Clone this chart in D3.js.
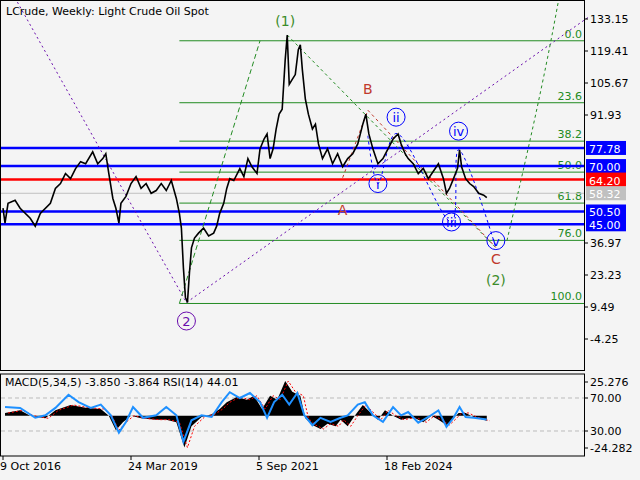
<!DOCTYPE html>
<html><head><meta charset="utf-8">
<script src="https://cdn.jsdelivr.net/npm/d3@7"></script>
<style>body{margin:0;background:#f4f4f4}svg{display:block;font-family:"DejaVu Sans",sans-serif}</style>
</head><body><svg id="c" width="640" height="480"></svg>
<script>
// weeks since 9 Oct 2016
const priceWeeks=[0,2,5,12,17,27,32,37,47,52,57,62,67,72,77,82,89,94,99,102,105,109,112,115,117,122,127,132,137,142,147,152,157,162,167,172,175,177,179,181,183,185,187,190,194,199,204,209,212,215,219,222,225,229,235,239,243,247,252,255,259,262,265,268,271,274,277,280,282,284,287,290,293,295,297,300,303,307,310,313,317,322,327,332,337,342,347,352,357,360,363,367,372,377,382,387,392,395,399,402,407,412,417,422,427,432,437,440,443,447,451,453,455,459,463,467,472,477,480];
const prices=[51.9,45.5,54.0,55.3,51.9,47.6,44.2,49.7,54.0,60.4,62.5,66.8,64.6,68.9,71.9,71.0,76.1,71.0,73.2,75.3,66.8,56.1,51.9,45.5,54.0,57.0,62.5,65.5,60.4,62.5,58.3,59.5,62.5,59.5,63.8,56.1,49.7,43.4,26.3,13.6,11.4,24.2,34.9,39.1,41.2,43.4,40.0,41.2,44.2,49.7,54.0,60.4,64.6,63.8,68.9,65.5,73.2,69.7,66.8,77.4,81.6,83.8,73.2,77.4,85.9,92.3,94.4,115.7,126.3,105.1,107.2,109.3,120.0,122.1,111.4,98.7,92.3,85.9,88.0,79.5,73.2,77.4,71.0,75.3,69.7,73.2,75.3,79.5,88.0,92.3,83.8,77.4,71.0,73.2,77.4,81.6,83.8,79.5,75.3,73.2,71.0,66.8,69.0,64.6,67.8,71.0,64.6,58.3,60.4,64.6,69.0,77.0,69.7,64.6,62.5,61.2,58.3,57.5,56.5];
const macdWeeks=[2,17,27,42,52,67,82,97,105,112,119,127,137,152,162,172,180,187,197,207,215,222,232,242,249,257,265,272,280,287,295,300,307,315,322,330,335,342,349,357,365,372,379,387,395,402,409,417,425,432,440,447,452,459,467,480];
const macd=[2,4,0,-2,4,8,6,5,0,-11,-5,0,-2,-3,-3,-5,-24,-8,-1,1,5,10,14,12,15,5,15,12,26,18,15,-2,-7,-10,-6,-8,-3,-8,0,8,2,-3,4,0,-3,-2,-2,-5,0,-3,-7,-2,2,2,-1,-3.85];
const rsiWeeks=[2,17,32,42,52,65,75,87,97,107,115,122,129,139,152,162,172,179,187,197,207,217,225,235,245,255,262,269,277,284,292,299,307,315,325,335,342,352,359,367,377,387,395,402,412,422,432,440,447,453,459,467,480];
const rsi=[59,58,46,49,58,74,65,58,62,49,28,41,59,46,49,59,49,17,43,49,47,65,77,70,76,65,46,65,74,62,76,49,37,46,41,46,49,62,65,49,41,59,49,53,40,47,55,35,46,59,47,46,44.01];
const fibLevels=[0,23.6,38.2,50,61.8,76,100];
const fibPrices=[123.8,97.2,80.7,67.4,54.1,38.1,11.0];
const blueLevels=[77.78,70.00,50.50,45.00];
const redLevel=64.20, greyLevel=58.32;
const priceTicks=[133.15,119.41,105.67,91.93,36.97,23.23,9.49,-4.25];
const lowerTickLabels=["25.276","70.00","30.00","-24.282"];
const dateTickWeeks=[0,127,254,381];
const dateTickLabels=["9 Oct 2016","24 Mar 2019","5 Sep 2021","18 Feb 2024"];
// wave annotations: [week, price]
const purpleLine=[[7,146],[182,11.4],[581,134]];
const greenUp=[[175,11],[255,123.8]];
const greenDown=[[282,126.3],[489,35]];
const greenRecov=[[500,38],[520,75],[540,115],[552,143]];
const redABC=[[337,65],[362,94],[489,35]];
const blueWave=[[362,83],[372,62.5],[390,84],[445,46],[452,77],[489,35]];
const circled=[["i",372,62.5],["ii",390,91],["iii",445,46],["iv",452,85],["v",489,38]];

const svg=d3.select("#c");
const R=584,B=370;
const x=d3.scaleLinear().domain([0,381]).range([3,387]);
const y=d3.scaleLinear().domain([-4.25,133.15]).range([339,19]);
svg.append("rect").attr("x",0.5).attr("y",0.5).attr("width",R).attr("height",B).attr("fill","#f4f4f4").attr("stroke","#000");
const lin=d3.line().x(d=>x(d[0])).y(d=>y(d[1]));
fibPrices.forEach((p,i)=>{
  svg.append("line").attr("x1",x(175)).attr("x2",R).attr("y1",y(p)).attr("y2",y(p)).attr("stroke","#228b22").attr("stroke-width",1);
  svg.append("text").attr("x",582).attr("y",y(p)-3).attr("text-anchor","end").attr("font-size",11).attr("fill","#228b22").text(fibLevels[i].toFixed(1));
});
svg.append("line").attr("x1",1).attr("x2",R).attr("y1",y(greyLevel)).attr("y2",y(greyLevel)).attr("stroke","#c0c0c0");
blueLevels.forEach(p=>svg.append("line").attr("x1",1).attr("x2",R).attr("y1",y(p)).attr("y2",y(p)).attr("stroke","#0000ff").attr("stroke-width",2.5));
svg.append("line").attr("x1",1).attr("x2",R).attr("y1",y(redLevel)).attr("y2",y(redLevel)).attr("stroke","#ff0000").attr("stroke-width",2.5);
const dl=(pts,c,da)=>svg.append("path").attr("d",lin(pts)).attr("fill","none").attr("stroke",c).attr("stroke-dasharray",da).attr("stroke-width",1);
dl(purpleLine,"#6a0dad","2,3");
dl(greenUp,"#228b22","5,3");dl(greenDown,"#228b22","3,3");
svg.append("path").attr("d",d3.line().curve(d3.curveBasis).x(d=>x(d[0])).y(d=>y(d[1]))(greenRecov)).attr("fill","none").attr("stroke","#228b22").attr("stroke-dasharray","3,3");
dl(redABC,"#c0392b","3,3");
svg.append("path").attr("d",d3.line().curve(d3.curveCatmullRom).x(d=>x(d[0])).y(d=>y(d[1]))(blueWave)).attr("fill","none").attr("stroke","#0000ff").attr("stroke-dasharray","3,3");
svg.append("path").attr("d",d3.line().x((d,i)=>x(priceWeeks[i])).y(d=>y(d))(prices)).attr("fill","none").attr("stroke","#000").attr("stroke-width",1.6);
const T1=(t,w,p,c,s)=>svg.append("text").attr("x",x(w)).attr("y",y(p)).attr("text-anchor","middle").attr("font-size",s||14).attr("fill",c).text(t);
T1("(1)",280,130,"#3c8c2a");T1("A",337,49,"#c0392b");T1("B",362,101,"#c0392b");T1("C",489,28,"#c0392b");T1("(2)",489,19,"#3c8c2a");
circled.forEach(c=>{svg.append("circle").attr("cx",x(c[1])).attr("cy",y(c[2])).attr("r",9).attr("fill","none").attr("stroke","#0000ff");
 svg.append("text").attr("x",x(c[1])).attr("y",y(c[2])+5).attr("text-anchor","middle").attr("font-size",13).attr("fill","#0000ff").text(c[0]);});
svg.append("circle").attr("cx",x(182)).attr("cy",321).attr("r",9).attr("fill","none").attr("stroke","#6a0dad");
svg.append("text").attr("x",x(182)).attr("y",326).attr("text-anchor","middle").attr("font-size",13).attr("fill","#6a0dad").text("2");
svg.append("text").attr("x",6).attr("y",15).attr("font-size",11).text("LCrude, Weekly:  Light Crude Oil Spot");
priceTicks.forEach(p=>{svg.append("line").attr("x1",R).attr("x2",R+4).attr("y1",y(p)).attr("y2",y(p)).attr("stroke","#000");
 svg.append("text").attr("x",R+6).attr("y",y(p)+4).attr("font-size",11).text(p.toFixed(2));});
const tag=(p,bg,fg)=>{svg.append("rect").attr("x",R+2).attr("y",y(p)-7).attr("width",40).attr("height",14).attr("fill",bg);
 svg.append("text").attr("x",R+5).attr("y",y(p)+5).attr("font-size",11).attr("fill",fg).text(p.toFixed(2));};
blueLevels.forEach(p=>tag(p,"#0000ff","#fff"));tag(redLevel,"#ff0000","#fff");tag(greyLevel,"#c0c0c0","#fff");
const PT=374,PB=456;
svg.append("rect").attr("x",0.5).attr("y",PT).attr("width",R).attr("height",PB-PT).attr("fill","#f4f4f4").attr("stroke","#000");
const ym=d3.scaleLinear().domain([-24.282,25.276]).range([448,382]);
const yr=d3.scaleLinear().domain([30,70]).range([431,398]);
[70,30].forEach(v=>svg.append("line").attr("x1",1).attr("x2",R).attr("y1",yr(v)).attr("y2",yr(v)).attr("stroke","#bbb").attr("stroke-dasharray","4,3"));
svg.append("path").attr("d",d3.area().x((d,i)=>x(macdWeeks[i])).y0(ym(0)).y1(d=>ym(d))(macd)).attr("fill","#000");
svg.append("path").attr("d",d3.line().x((d,i)=>x(macdWeeks[i]+3)).y(d=>ym(d))(macd)).attr("fill","none").attr("stroke","#f00").attr("stroke-dasharray","2,2");
svg.append("path").attr("d",d3.line().x((d,i)=>x(rsiWeeks[i])).y(d=>yr(d))(rsi)).attr("fill","none").attr("stroke","#1e90ff").attr("stroke-width",2);
svg.append("text").attr("x",5).attr("y",386).attr("font-size",11).text("MACD(5,34,5) -3.850 -3.864 RSI(14) 44.01");
[ym(25.276),yr(70),yr(30),ym(-24.282)].forEach((py,i)=>{
 svg.append("line").attr("x1",R).attr("x2",R+4).attr("y1",py).attr("y2",py).attr("stroke","#000");
 svg.append("text").attr("x",R+6).attr("y",py+4).attr("font-size",11).text(lowerTickLabels[i]);});
dateTickWeeks.forEach((w,i)=>{svg.append("line").attr("x1",x(w)).attr("x2",x(w)).attr("y1",PB).attr("y2",PB+4).attr("stroke","#000");
 svg.append("text").attr("x",x(w)-3).attr("y",470).attr("font-size",11).text(dateTickLabels[i]);});
</script></body></html>
